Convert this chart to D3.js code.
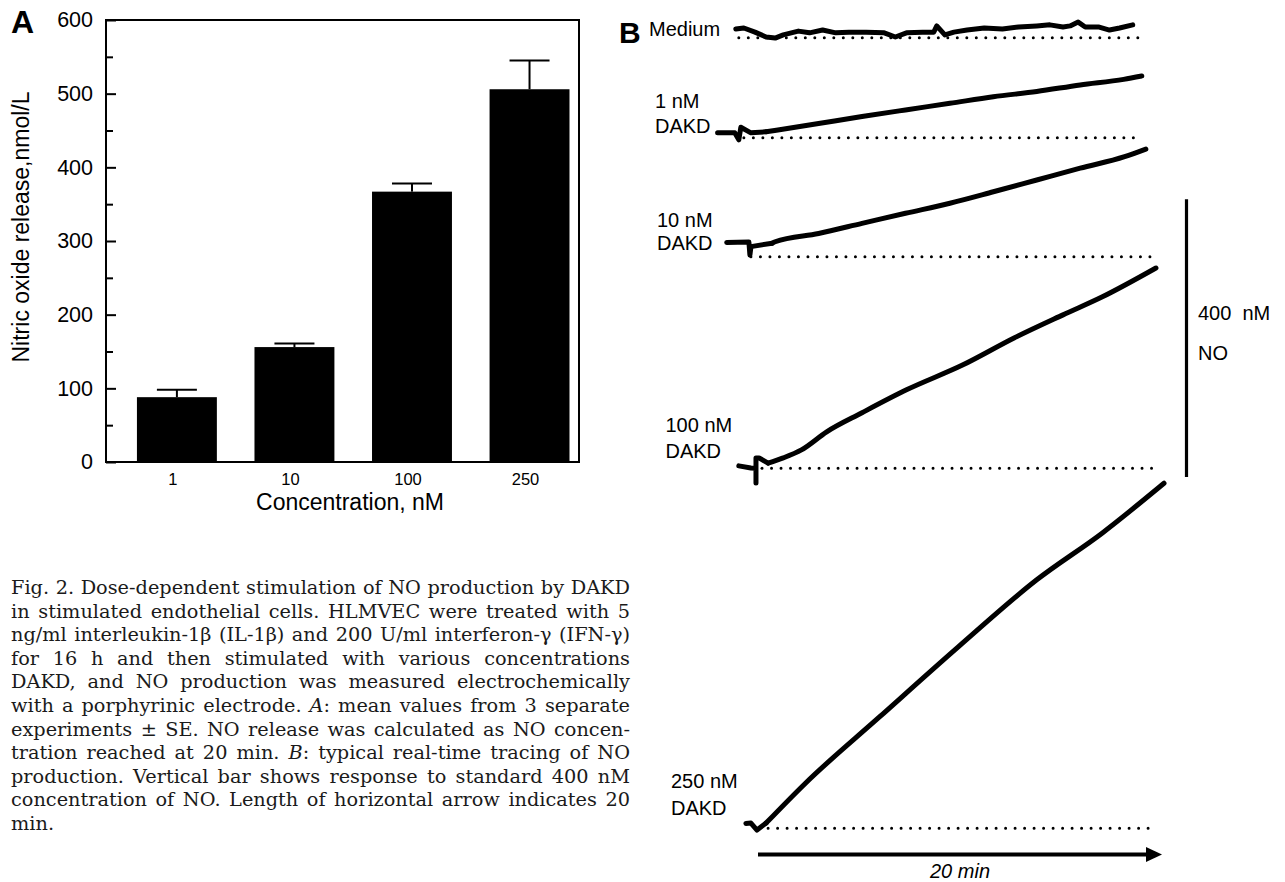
<!DOCTYPE html>
<html>
<head>
<meta charset="utf-8">
<script src="https://cdn.jsdelivr.net/npm/d3@7"></script>
<style>
  body { margin: 0; background: #fff; }
</style>
</head>
<body>
<script>
// ---- Panel A: NO release vs DAKD concentration ----
const concentrations = ["1", "10", "100", "250"];
const noRelease = [88, 156, 367, 506];
const noReleaseSE = [10, 5, 11, 39];
const yMajorTicks = [0, 100, 200, 300, 400, 500, 600];
const yMinorTicks = [50, 150, 250, 350, 450, 550];

// ---- Panel B: real-time NO tracings, [minutes, nM above baseline] ----
const traceLabels = [["Medium"], ["1 nM", "DAKD"], ["10 nM", "DAKD"], ["100 nM", "DAKD"], ["250 nM", "DAKD"]];
const traceMedium = [[-1.1, 12.5], [-0.7, 14], [-0.15, 8], [0.4, 1], [0.85, -0.5], [1.25, 4], [2.0, 9.5], [2.55, 7],
  [3.2, 11], [3.85, 7], [4.5, 8], [5.35, 8], [6.25, 7], [6.8, 1], [7.35, 7], [8.15, 8], [8.7, 8], [8.85, 17],
  [9.25, 4], [9.7, 8], [10.35, 11], [11.2, 14], [12.1, 12.5], [12.9, 15.5], [13.8, 17], [14.45, 18.5], [15.1, 15.5],
  [15.45, 17], [15.85, 22.5], [16.2, 15.5], [16.85, 15.5], [17.4, 11], [17.9, 14], [18.55, 18.5]];
const trace1nM = [[-2.0, 7], [-1.15, 7], [-0.95, -3], [-0.85, 15], [-0.35, 7], [0.4, 8.5], [3.0, 20.5], [5.15, 30.5],
  [7.3, 40], [9.5, 49.5], [11.65, 59], [13.8, 66.5], [15.95, 76], [18.1, 84], [19.0, 89]];
const trace10nM = [[-1.55, 20.5], [-0.45, 21], [-0.4, 2.5], [-0.35, 14.5], [0.7, 19.5], [0.85, 21.5], [3.0, 33.5],
  [5.15, 48], [7.3, 62.5], [9.5, 77], [11.65, 93.5], [13.8, 110.5], [15.95, 127.5], [18.15, 144], [19.2, 155]];
const trace100nM = [[-0.95, 3.5], [-0.35, 0.5], [-0.1, 0], [-0.1, -21], [-0.1, 15], [0.05, 15], [0.5, 7.5], [1.25, 15],
  [2.15, 26.5], [3.4, 52.5], [5.15, 80], [7.35, 113], [10.15, 149], [12.7, 188], [15.1, 221], [17.05, 247], [19.7, 288.5]];
const trace250nM = [[-0.6, 7], [-0.35, 7.5], [-0.05, -2.5], [0.4, 7.5], [2.35, 65], [6.0, 160], [9.9, 261],
  [13.8, 358], [17.05, 425.5], [20.1, 497]];
const traces = [traceMedium, trace1nM, trace10nM, trace100nM, trace250nM];
const baselineSpans = [[-0.95, 19.0], [-0.7, 18.9], [-0.35, 19.55], [0.2, 19.95], [0.5, 19.75]];
const calibrationNM = 400;
const arrowMinutes = 20;

const captionLines = [
  "Fig. 2.  Dose-dependent stimulation of NO production by DAKD",
  "in stimulated endothelial cells. HLMVEC were treated with 5",
  "ng/ml interleukin-1β (IL-1β) and 200 U/ml interferon-γ (IFN-γ)",
  "for 16 h and then stimulated with various concentrations",
  "DAKD, and NO production was measured electrochemically",
  "with a porphyrinic electrode. *A*: mean values from 3 separate",
  "experiments ± SE. NO release was calculated as NO concen-",
  "tration reached at 20 min. *B*: typical real-time tracing of NO",
  "production. Vertical bar shows response to standard 400 nM",
  "concentration of NO. Length of horizontal arrow indicates 20",
  "min."
];

const width = 1285, height = 882;
const sans = "'Liberation Sans', Arial, Helvetica, sans-serif";

const svg = d3.select("body").append("svg")
  .attr("width", width)
  .attr("height", height)
  .style("font-family", sans);

svg.append("rect").attr("width", width).attr("height", height).attr("fill", "#fff");

// ================= Panel A =================
const plot = { left: 106, right: 579, top: 20, bottom: 462 };

const y = d3.scaleLinear().domain([0, 600]).range([plot.bottom, plot.top]);
const x = d3.scaleBand()
  .domain(concentrations)
  .range([plot.left, plot.right])
  .paddingInner(0.32)
  .paddingOuter(0.172)
  .align(0.765);

const gA = svg.append("g").attr("class", "panel-a");

gA.selectAll("rect.bar")
  .data(noRelease)
  .join("rect")
  .attr("class", "bar")
  .attr("x", (d, i) => x(concentrations[i]))
  .attr("y", d => y(d))
  .attr("width", x.bandwidth())
  .attr("height", d => y(0) - y(d))
  .attr("fill", "#000");

const errG = gA.append("g").attr("stroke", "#000").attr("stroke-width", 2);
noRelease.forEach((v, i) => {
  const cx = x(concentrations[i]) + x.bandwidth() / 2;
  errG.append("line").attr("x1", cx).attr("x2", cx).attr("y1", y(v)).attr("y2", y(v + noReleaseSE[i]));
  errG.append("line").attr("x1", cx - 20).attr("x2", cx + 20)
    .attr("y1", y(v + noReleaseSE[i])).attr("y2", y(v + noReleaseSE[i]));
});

// frame
gA.append("rect")
  .attr("x", plot.left).attr("y", plot.top)
  .attr("width", plot.right - plot.left).attr("height", plot.bottom - plot.top)
  .attr("fill", "none").attr("stroke", "#000").attr("stroke-width", 2);

// y axis, ticks pointing inward
gA.append("g")
  .attr("transform", `translate(${plot.left},0)`)
  .call(d3.axisLeft(y).tickValues(yMajorTicks).tickSize(-10).tickPadding(13))
  .call(g => g.select(".domain").remove())
  .call(g => g.selectAll("line").attr("stroke-width", 2))
  .call(g => g.selectAll("text").attr("fill", "#000").style("font-size", "21.5px").style("font-family", sans));

gA.append("g")
  .attr("transform", `translate(${plot.left},0)`)
  .call(d3.axisLeft(y).tickValues(yMinorTicks).tickSize(-7).tickFormat(() => ""))
  .call(g => g.select(".domain").remove())
  .call(g => g.selectAll("line").attr("stroke-width", 2));

// x axis: labels only
gA.append("g")
  .attr("transform", `translate(0,${plot.bottom})`)
  .call(d3.axisBottom(x).tickSize(0).tickPadding(11))
  .call(g => g.select(".domain").remove())
  .call(g => g.selectAll("text").attr("fill", "#000").attr("dx", -4)
    .style("font-size", "16.5px").style("font-family", sans));

gA.append("text")
  .attr("transform", "translate(29,227) rotate(-90)")
  .attr("text-anchor", "middle")
  .style("font-size", "23px")
  .text("Nitric oxide release,nmol/L");

gA.append("text")
  .attr("x", 350).attr("y", 510)
  .attr("text-anchor", "middle")
  .style("font-size", "23px")
  .text("Concentration, nM");

gA.append("text")
  .attr("x", 11).attr("y", 33)
  .style("font-size", "32px").style("font-weight", "bold")
  .text("A");

// ================= Panel B =================
const tx = d3.scaleLinear().domain([0, 20]).range([758, 1162]);
const nmHeight = d3.scaleLinear().domain([0, 400]).range([0, 277.7]);
const baseY = [37.7, 137.7, 256.7, 468.3, 828.3];
const labelX = [649, 655, 657, 665.5, 671];
const labelY = [[36], [108, 133], [227, 250], [432, 458], [788, 815]];
// last point of the noisy onset; the rise after it is drawn smooth
const onsetEnd = [traceMedium.length - 1, 5, 4, 6, 3];

const gB = svg.append("g").attr("class", "panel-b");

gB.append("text")
  .attr("x", 619).attr("y", 43)
  .style("font-size", "30px").style("font-weight", "bold")
  .text("B");

traces.forEach((tr, i) => {
  // dotted baseline
  gB.append("line")
    .attr("x1", tx(baselineSpans[i][0])).attr("x2", tx(baselineSpans[i][1]))
    .attr("y1", baseY[i]).attr("y2", baseY[i])
    .attr("stroke", "#000").attr("stroke-width", 3)
    .attr("stroke-linecap", "round")
    .attr("stroke-dasharray", "0 9.5");

  const onset = d3.line()
    .x(d => tx(d[0]))
    .y(d => baseY[i] - nmHeight(d[1]));
  const rise = d3.line()
    .curve(d3.curveMonotoneX)
    .x(d => tx(d[0]))
    .y(d => baseY[i] - nmHeight(d[1]));

  const parts = [onset(tr.slice(0, onsetEnd[i] + 1))];
  if (onsetEnd[i] < tr.length - 1) parts.push(rise(tr.slice(onsetEnd[i])));

  gB.selectAll(null)
    .data(parts)
    .join("path")
    .attr("d", d => d)
    .attr("fill", "none")
    .attr("stroke", "#000")
    .attr("stroke-width", 5)
    .attr("stroke-linejoin", "round")
    .attr("stroke-linecap", "round");

  traceLabels[i].forEach((lbl, k) => {
    gB.append("text")
      .attr("x", labelX[i]).attr("y", labelY[i][k])
      .style("font-size", "20px")
      .text(lbl);
  });
});

// calibration bar: 400 nM NO
const calBottom = 477;
gB.append("line")
  .attr("x1", 1186.5).attr("x2", 1186.5)
  .attr("y1", calBottom - nmHeight(calibrationNM)).attr("y2", calBottom)
  .attr("stroke", "#000").attr("stroke-width", 3.2);
gB.append("text").attr("x", 1198).attr("y", 320).style("font-size", "20px")
  .attr("xml:space", "preserve").text("400  nM");
gB.append("text").attr("x", 1198).attr("y", 360).style("font-size", "20px").text("NO");

// time arrow: 20 min
const arrowY = 854.5;
gB.append("line")
  .attr("x1", tx(0)).attr("x2", tx(arrowMinutes) - 13)
  .attr("y1", arrowY).attr("y2", arrowY)
  .attr("stroke", "#000").attr("stroke-width", 4);
gB.append("path")
  .attr("d", `M${tx(arrowMinutes)},${arrowY} L${tx(arrowMinutes) - 16},${arrowY - 7.5} L${tx(arrowMinutes) - 16},${arrowY + 7.5} Z`)
  .attr("fill", "#000");
gB.append("text")
  .attr("x", (tx(0) + tx(arrowMinutes)) / 2).attr("y", 878)
  .attr("text-anchor", "middle")
  .style("font-size", "20px").style("font-style", "italic")
  .text("20 min");

// ================= Caption =================
const capLeft = 11, capRight = 630, capTop = 594, capStep = 23.6;
const capG = svg.append("g")
  .style("font-family", "'DejaVu Serif', 'Liberation Serif', serif")
  .attr("fill", "#1a1a1a");

// size font so the widest line fits the column
let capSize = 17;
const probe = capG.append("text").style("font-size", capSize + "px");
const natural = captionLines.map(l => { probe.text(l.replace(/\*/g, "")); return probe.node().getComputedTextLength(); });
probe.remove();
capSize = capSize * (capRight - capLeft) / d3.max(natural) * 0.995;
capG.style("font-size", capSize + "px");

function addWord(g, word) {
  const t = g.append("text");
  word.split("*").forEach((part, k) => {
    if (part) t.append("tspan").style("font-style", k % 2 ? "italic" : "normal").text(part);
  });
  return t;
}

captionLines.forEach((lineStr, i) => {
  const yy = capTop + i * capStep;
  const words = lineStr.split(" ").filter(w => w.length);
  const nodes = words.map(w => addWord(capG, w).attr("y", yy));
  const widths = nodes.map(n => n.node().getComputedTextLength());
  const total = d3.sum(widths);
  const last = i === captionLines.length - 1;
  const gap = (last || words.length < 2) ? capSize * 0.3 : (capRight - capLeft - total) / (words.length - 1);
  let cx = capLeft;
  nodes.forEach((n, k) => { n.attr("x", cx); cx += widths[k] + gap; });
});
</script>
</body>
</html>
